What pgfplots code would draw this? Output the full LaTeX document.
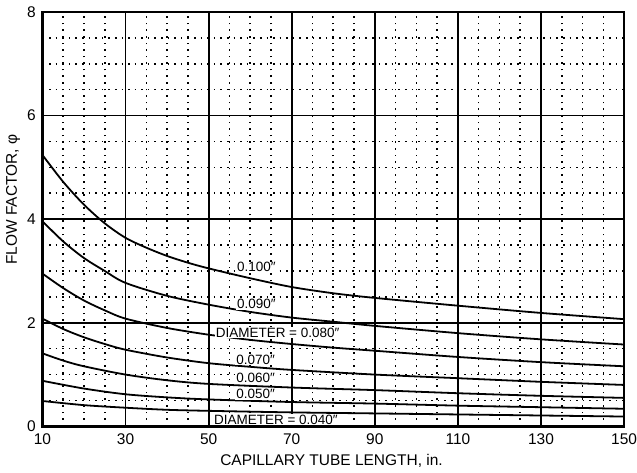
\documentclass[border=0pt]{standalone}
\usepackage{fontspec}
\setmainfont{Liberation Sans}
\usepackage{pgfplots}
\pgfplotsset{compat=1.18}
\tikzset{
  lbl/.style={fill=white, inner sep=1pt, font=\fontsize{13.5}{16}\selectfont},
  crv/.style={black, line width=1.8pt, smooth, mark=none},
}
\begin{document}
\begin{tikzpicture}
\begin{axis}[
    scale only axis,
    width=582.5pt, height=415pt,
    xmin=10, xmax=150, ymin=0, ymax=8,
    xtick={10,30,...,150}, ytick={0,2,...,8},
    minor x tick num=3, minor y tick num=3,
    grid=both,
    major grid style={black, line width=1.8pt},
    minor grid style={black, line width=1.6pt, dash pattern=on 1.6pt off 5pt},
    axis line style={line width=2.6pt},
    major tick length=0pt, minor tick length=0pt,
    tick label style={font=\fontsize{15.5}{18}\selectfont, inner sep=0pt},
    xticklabel style={anchor=center, yshift=-13pt},
    yticklabel style={anchor=east, xshift=-6.5pt},
    /pgf/number format/assume math mode=true,
    xlabel={CAPILLARY TUBE LENGTH, in.},
    ylabel={FLOW FACTOR, φ},
    label style={font=\fontsize{15.5}{18}\selectfont},
    xlabel style={at={(axis description cs:0.497,-0.0843)}, anchor=center},
    ylabel style={at={(axis description cs:-0.0506,0.547)}, anchor=center, rotate=0},
]
% 0.100 in
\addplot[crv] coordinates {(10,5.24)(15,4.72)(20,4.28)(25,3.92)(30,3.64)(35,3.45)(40,3.29)(45,3.16)(50,3.05)(60,2.86)(70,2.69)(80,2.57)(90,2.48)(110,2.33)(130,2.19)(150,2.07)};
% 0.090 in
\addplot[crv] coordinates {(10,3.96)(15,3.57)(20,3.25)(25,3.00)(30,2.77)(40,2.52)(50,2.35)(60,2.21)(70,2.10)(80,2.02)(90,1.94)(110,1.80)(130,1.68)(150,1.58)};
% 0.080 in
\addplot[crv] coordinates {(10,2.95)(15,2.67)(20,2.43)(25,2.24)(30,2.08)(40,1.90)(50,1.77)(60,1.67)(70,1.59)(80,1.52)(90,1.46)(110,1.34)(130,1.24)(150,1.16)};
% 0.070 in
\addplot[crv] coordinates {(10,2.08)(15,1.88)(20,1.72)(25,1.59)(30,1.48)(40,1.33)(50,1.22)(60,1.15)(70,1.09)(90,1.00)(110,0.93)(130,0.86)(150,0.80)};
% 0.060 in
\addplot[crv] coordinates {(10,1.41)(15,1.27)(20,1.16)(30,1.00)(40,0.89)(50,0.82)(70,0.75)(90,0.70)(110,0.64)(130,0.59)(150,0.55)};
% 0.050 in
\addplot[crv] coordinates {(10,0.88)(20,0.73)(30,0.62)(40,0.56)(50,0.52)(70,0.47)(90,0.44)(110,0.40)(130,0.37)(150,0.34)};
% 0.040 in
\addplot[crv] coordinates {(10,0.49)(20,0.41)(30,0.36)(40,0.32)(50,0.30)(70,0.27)(90,0.25)(110,0.23)(130,0.21)(150,0.19)};

\node[lbl] at (axis cs:61.5,3.07) {0.100″};
\node[lbl] at (axis cs:61.5,2.36) {0.090″};
\node[lbl] at (axis cs:66.6,1.81) {DIAMETER = 0.080″};
\node[lbl] at (axis cs:61.3,1.29) {0.070″};
\node[lbl] at (axis cs:61.3,0.93) {0.060″};
\node[lbl] at (axis cs:61.3,0.62) {0.050″};
\node[lbl] at (axis cs:66.2,0.135) {DIAMETER = 0.040″};
\end{axis}
% page extent as in the reference
\path (-42.5pt,-46pt) rectangle (594.5pt,427pt);
\end{tikzpicture}
\end{document}
